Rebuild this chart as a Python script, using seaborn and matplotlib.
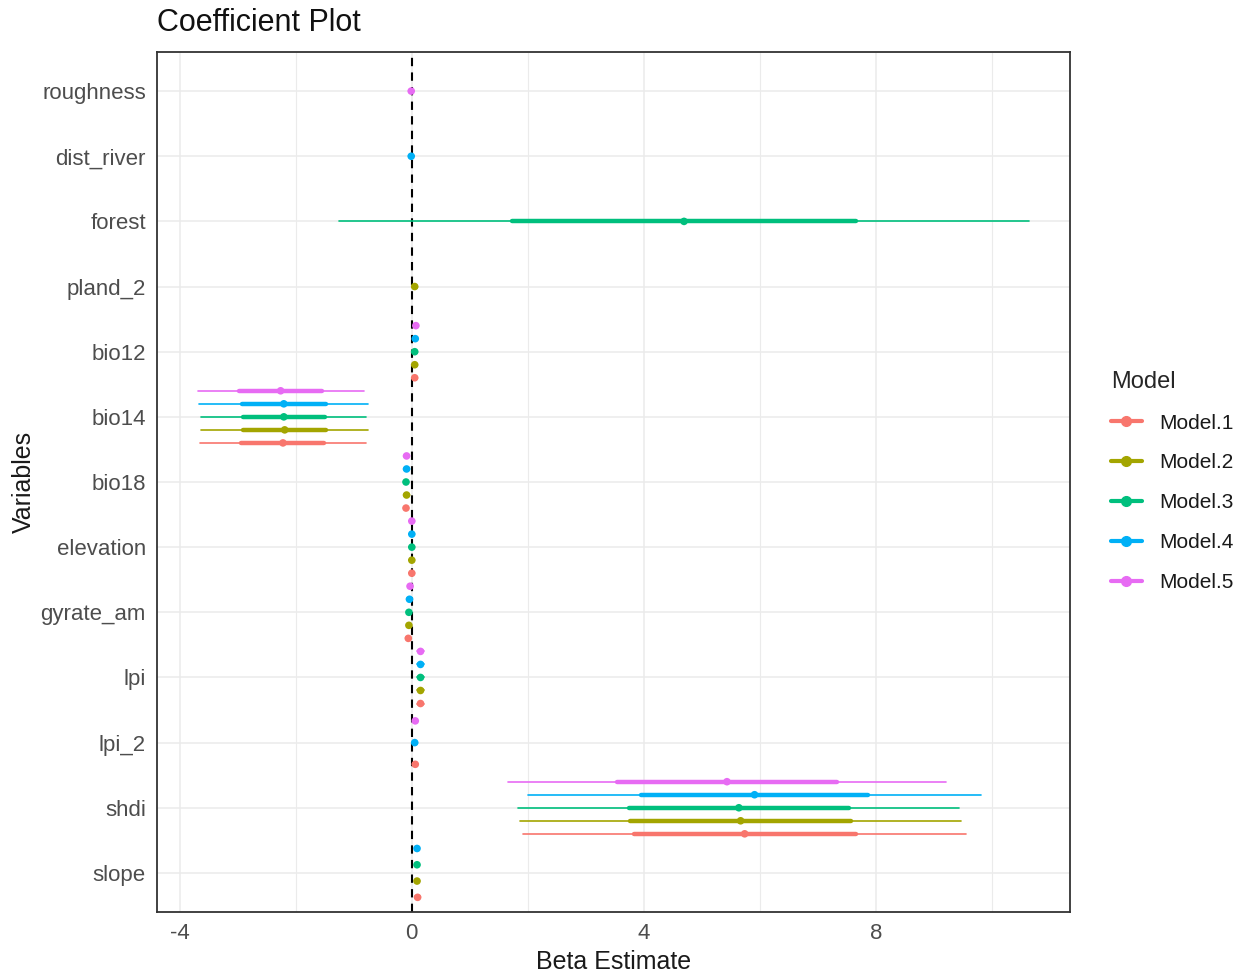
import numpy as np
import pandas as pd
import matplotlib
matplotlib.use("Agg")
import matplotlib.pyplot as plt
from matplotlib.lines import Line2D
import seaborn as sns

# ---------------- data ----------------
variables = ["roughness", "dist_river", "forest", "pland_2", "bio12", "bio14",
             "bio18", "elevation", "gyrate_am", "lpi", "lpi_2", "shdi", "slope"]
models = ["Model.1", "Model.2", "Model.3", "Model.4", "Model.5"]
nan = np.nan

# coefficient estimates (per model, aligned with `variables`)
est_m1 = [nan, nan, nan, nan, 0.05, -2.22, -0.10, 0.00, -0.06, 0.15, 0.06, 5.735, 0.10]
est_m2 = [nan, nan, nan, 0.05, 0.05, -2.19, -0.09, 0.00, -0.05, 0.15, nan, 5.665, 0.09]
est_m3 = [nan, nan, 4.69, nan, 0.05, -2.205, -0.10, 0.00, -0.05, 0.15, nan, 5.635, 0.09]
est_m4 = [nan, -0.01, nan, nan, 0.06, -2.205, -0.09, 0.00, -0.04, 0.15, 0.05, 5.905, 0.09]
est_m5 = [-0.01, nan, nan, nan, 0.07, -2.26, -0.09, 0.00, -0.03, 0.15, 0.06, 5.43, nan]

# standard errors (inner CI = 1 SE, outer CI = 2 SE)
se_m1 = [nan, nan, nan, nan, 0.02, 0.715, 0.02, 0.02, 0.02, 0.03, 0.02, 1.91, 0.02]
se_m2 = [nan, nan, nan, 0.02, 0.02, 0.72, 0.02, 0.02, 0.02, 0.03, nan, 1.90, 0.02]
se_m3 = [nan, nan, 2.97, nan, 0.02, 0.71, 0.02, 0.02, 0.02, 0.03, nan, 1.90, 0.02]
se_m4 = [nan, 0.02, nan, nan, 0.02, 0.727, 0.02, 0.02, 0.02, 0.03, 0.02, 1.95, 0.02]
se_m5 = [0.02, nan, nan, nan, 0.02, 0.715, 0.02, 0.02, 0.02, 0.03, 0.02, 1.89, nan]

palette = {"Model.1": "#F8766D", "Model.2": "#A3A500", "Model.3": "#00BF7D",
           "Model.4": "#00B0F6", "Model.5": "#E76BF3"}

# ---------------- build long table ----------------
est_all = [est_m1, est_m2, est_m3, est_m4, est_m5]
se_all = [se_m1, se_m2, se_m3, se_m4, se_m5]
rows = []
for vi, var in enumerate(variables):
    present = [mi for mi in range(len(models)) if not np.isnan(est_all[mi][vi])]
    n = len(present)
    for k, mi in enumerate(present):
        offset = ((n - 1) / 2 - k) / n   # ggplot-style dodge, width 1
        rows.append({"variable": var, "model": models[mi], "ypos": vi + offset,
                     "est": est_all[mi][vi], "se": se_all[mi][vi]})
df = pd.DataFrame(rows)
df["row"] = np.arange(len(df))

def seg_table(mult):
    lo = df.assign(x=df["est"] - mult * df["se"])
    hi = df.assign(x=df["est"] + mult * df["se"])
    return pd.concat([lo, hi]).sort_values("row")

outer = seg_table(2.0)
inner = seg_table(1.0)

# ---------------- plot ----------------
sns.set_style("white")
plt.rcParams["font.family"] = ["Liberation Sans", "DejaVu Sans"]
plt.rcParams["axes.unicode_minus"] = False

fig = plt.figure(figsize=(12.45, 9.75), dpi=100)
ax = fig.add_axes([157 / 1245, 1 - 912 / 975, (1070 - 157) / 1245, (912 - 52) / 975])

# grid
ax.set_axisbelow(True)
ax.set_xticks([-4, 0, 4, 8])
ax.set_xticks([-2, 2, 6, 10], minor=True)
ax.grid(which="major", color="#EBEBEB", lw=1.1)
ax.grid(which="minor", axis="x", color="#EBEBEB", lw=0.8)

ax.axvline(0, color="black", lw=1.5, ls=(0, (4, 3)), zorder=1)

sns.lineplot(data=outer, x="x", y="ypos", hue="model", units="row", estimator=None,
             sort=False, palette=palette, hue_order=models, lw=1.2, legend=False,
             ax=ax, zorder=2)
sns.lineplot(data=inner, x="x", y="ypos", hue="model", units="row", estimator=None,
             sort=False, palette=palette, hue_order=models, lw=3.2, legend=False,
             ax=ax, zorder=3)
sns.scatterplot(data=df, x="est", y="ypos", hue="model", palette=palette,
                hue_order=models, s=30, linewidth=0, legend=False, ax=ax, zorder=4)

ax.set_xlim(-4.39, 11.34)
ax.set_ylim(12.6, -0.6)
ax.set_yticks(range(len(variables)))
ax.set_yticklabels(variables)

for sp in ax.spines.values():
    sp.set_visible(True)
    sp.set_color("#333333")
    sp.set_linewidth(1.3)

ax.tick_params(axis="both", which="major", direction="out", length=4, width=1,
               color="#333333", labelcolor="#4D4D4D", labelsize=16, pad=4)
ax.tick_params(axis="x", which="minor", length=0)

ax.set_xlabel("Beta Estimate", fontsize=18, color="#1A1A1A", labelpad=4)
ax.set_ylabel("Variables", fontsize=18, color="#1A1A1A", labelpad=3)

fig.text(157 / 1245, 1 - 23 / 975, "Coefficient Plot", fontsize=22, color="#111111",
         ha="left", va="center")

handles = [Line2D([0], [0], color=palette[m], lw=3, marker="o", markersize=7)
           for m in models]
leg = fig.legend(handles, models, title="Model", loc="upper left",
                 bbox_to_anchor=(1092 / 1245, 1 - 352 / 975), frameon=False,
                 fontsize=15, title_fontsize=17, handlelength=1.5,
                 handletextpad=0.85, labelspacing=1.0)
leg._legend_box.align = "left"
for t in leg.get_texts():
    t.set_color("#1A1A1A")

fig.savefig("out.png", dpi=100)
